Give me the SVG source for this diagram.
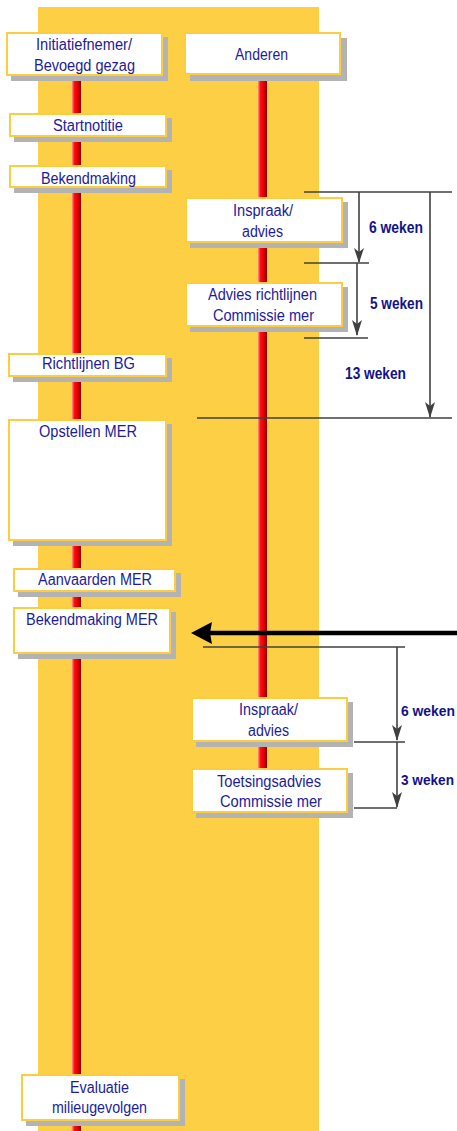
<svg xmlns="http://www.w3.org/2000/svg" width="457" height="1131" viewBox="0 0 457 1131">
  <style>
    .shadow { fill: #b3b3b3; }
    .box { fill: #ffffff; stroke: #fccd3e; stroke-width: 2; }
    .lbl { font-family: "Liberation Sans", Arial, sans-serif; font-size: 16px; fill: #1c1c9c; text-anchor: middle; }
    .dur { font-family: "Liberation Sans", Arial, sans-serif; font-size: 17px; font-weight: bold; fill: #12128c; }
    .dur-edge { font-size: 14.3px; }
    .tick { stroke: #404040; stroke-width: 1.4; fill: none; }
    .shaft { stroke: #404040; stroke-width: 1.6; fill: none; }
    .head { fill: #404040; }
  </style>
  <defs>
    <linearGradient id="track" x1="0" y1="0" x2="1" y2="0">
      <stop offset="0" stop-color="#ff9a8a"/>
      <stop offset="0.25" stop-color="#ff1010"/>
      <stop offset="0.6" stop-color="#e80000"/>
      <stop offset="1" stop-color="#8a0000"/>
    </linearGradient>
  </defs>

  <!-- background band -->
  <rect x="38" y="7" width="281" height="1124" fill="#fdcf45"/>

  <!-- time tracks -->
  <g id="tracks">
    <rect x="72" y="76" width="9" height="1055" fill="url(#track)"/>
    <rect x="258" y="75" width="9" height="693" fill="url(#track)"/>
  </g>

  <!-- connectors and durations -->
  <g id="connectors">
    <line class="tick" x1="304" y1="192" x2="452" y2="192"/>
    <line class="tick" x1="304" y1="263" x2="369" y2="263"/>
    <line class="tick" x1="304" y1="338" x2="368" y2="338"/>
    <line class="tick" x1="197" y1="418" x2="452" y2="418"/>
    <path class="shaft" d="M359,192 L359,262"/>
    <path class="head" d="M354,248 L359,252 L364,248 L359,263 Z"/>
    <path class="shaft" d="M357,263 L357,335"/>
    <path class="head" d="M352,320 L357,324 L362,320 L357,336 Z"/>
    <path class="shaft" d="M430,192 L430,417"/>
    <path class="head" d="M425,402 L430,406 L435,402 L430,418 Z"/>

    <line x1="205" y1="633" x2="457" y2="633" stroke="#000000" stroke-width="4.5"/>
    <path d="M191,633 L212,622 L210,633 L212,644 Z" fill="#000000"/>

    <line class="tick" x1="203" y1="647" x2="405" y2="647"/>
    <line class="tick" x1="354" y1="742" x2="405" y2="742"/>
    <line class="tick" x1="354" y1="808" x2="397" y2="808"/>
    <path class="shaft" d="M397,647 L397,740"/>
    <path class="head" d="M392,725 L397,729 L402,725 L397,741 Z"/>
    <path class="shaft" d="M397,742 L397,807"/>
    <path class="head" d="M392,792 L397,796 L402,792 L397,808 Z"/>

    <text class="dur" x="369" y="233" textLength="54" lengthAdjust="spacingAndGlyphs">6 weken</text>
    <text class="dur" x="370" y="309" textLength="53" lengthAdjust="spacingAndGlyphs">5 weken</text>
    <text class="dur" x="345" y="379" textLength="61" lengthAdjust="spacingAndGlyphs">13 weken</text>
    <text class="dur dur-edge" x="401" y="716" textLength="54" lengthAdjust="spacingAndGlyphs">6 weken</text>
    <text class="dur dur-edge" x="401" y="785" textLength="53" lengthAdjust="spacingAndGlyphs">3 weken</text>
  </g>

  <!-- process steps -->
  <g id="initiatiefnemer">
    <rect class="shadow" x="11" y="37" width="157" height="44"/>
    <rect class="box" x="7" y="33" width="155" height="42"/>
    <text class="lbl" x="84" y="50" textLength="96" lengthAdjust="spacingAndGlyphs">Initiatiefnemer/</text>
    <text class="lbl" x="84.5" y="71" textLength="101" lengthAdjust="spacingAndGlyphs">Bevoegd gezag</text>
  </g>
  <g id="anderen">
    <rect class="shadow" x="190" y="38" width="157" height="43"/>
    <rect class="box" x="185" y="33" width="155" height="41"/>
    <text class="lbl" x="261.5" y="60" textLength="53" lengthAdjust="spacingAndGlyphs">Anderen</text>
  </g>
  <g id="startnotitie">
    <rect class="shadow" x="14" y="118" width="158" height="24"/>
    <rect class="box" x="10" y="114" width="156" height="22"/>
    <text class="lbl" x="88" y="131" textLength="70" lengthAdjust="spacingAndGlyphs">Startnotitie</text>
  </g>
  <g id="bekendmaking">
    <rect class="shadow" x="14" y="170" width="158" height="23"/>
    <rect class="box" x="10" y="166" width="156" height="21"/>
    <text class="lbl" x="88.5" y="184" textLength="95" lengthAdjust="spacingAndGlyphs">Bekendmaking</text>
  </g>
  <g id="inspraak-1">
    <rect class="shadow" x="190" y="202" width="158" height="46"/>
    <rect class="box" x="186" y="198" width="156" height="44"/>
    <text class="lbl" x="263" y="216" textLength="60" lengthAdjust="spacingAndGlyphs">Inspraak/</text>
    <text class="lbl" x="262.5" y="237" textLength="41" lengthAdjust="spacingAndGlyphs">advies</text>
  </g>
  <g id="advies-richtlijnen">
    <rect class="shadow" x="190" y="287" width="158" height="45"/>
    <rect class="box" x="186" y="283" width="156" height="43"/>
    <text class="lbl" x="262.5" y="300" textLength="109" lengthAdjust="spacingAndGlyphs">Advies richtlijnen</text>
    <text class="lbl" x="263.5" y="321" textLength="101" lengthAdjust="spacingAndGlyphs">Commissie mer</text>
  </g>
  <g id="richtlijnen-bg">
    <rect class="shadow" x="13" y="358" width="159" height="24"/>
    <rect class="box" x="9" y="354" width="157" height="22"/>
    <text class="lbl" x="88.5" y="369" textLength="93" lengthAdjust="spacingAndGlyphs">Richtlijnen BG</text>
  </g>
  <g id="opstellen-mer">
    <rect class="shadow" x="13" y="424" width="159" height="122"/>
    <rect class="box" x="9" y="420" width="157" height="120"/>
    <text class="lbl" x="88" y="437" textLength="98" lengthAdjust="spacingAndGlyphs">Opstellen MER</text>
  </g>
  <g id="aanvaarden-mer">
    <rect class="shadow" x="18" y="573" width="163" height="24"/>
    <rect class="box" x="14" y="569" width="161" height="22"/>
    <text class="lbl" x="95" y="585" textLength="114" lengthAdjust="spacingAndGlyphs">Aanvaarden MER</text>
  </g>
  <g id="bekendmaking-mer">
    <rect class="shadow" x="18" y="612" width="158" height="47"/>
    <rect class="box" x="14" y="608" width="156" height="45"/>
    <text class="lbl" x="92" y="625" textLength="132" lengthAdjust="spacingAndGlyphs">Bekendmaking MER</text>
  </g>
  <g id="inspraak-2">
    <rect class="shadow" x="196" y="702" width="157" height="45"/>
    <rect class="box" x="192" y="698" width="155" height="43"/>
    <text class="lbl" x="268.5" y="715" textLength="59" lengthAdjust="spacingAndGlyphs">Inspraak/</text>
    <text class="lbl" x="268.5" y="736" textLength="41" lengthAdjust="spacingAndGlyphs">advies</text>
  </g>
  <g id="toetsingsadvies">
    <rect class="shadow" x="196" y="773" width="157" height="45"/>
    <rect class="box" x="192" y="769" width="155" height="43"/>
    <text class="lbl" x="269" y="787" textLength="104" lengthAdjust="spacingAndGlyphs">Toetsingsadvies</text>
    <text class="lbl" x="271" y="807" textLength="102" lengthAdjust="spacingAndGlyphs">Commissie mer</text>
  </g>
  <g id="evaluatie">
    <rect class="shadow" x="26" y="1079" width="159" height="47"/>
    <rect class="box" x="22" y="1075" width="157" height="45"/>
    <text class="lbl" x="99.5" y="1093" textLength="59" lengthAdjust="spacingAndGlyphs">Evaluatie</text>
    <text class="lbl" x="99.5" y="1113" textLength="95" lengthAdjust="spacingAndGlyphs">milieugevolgen</text>
  </g>
</svg>
